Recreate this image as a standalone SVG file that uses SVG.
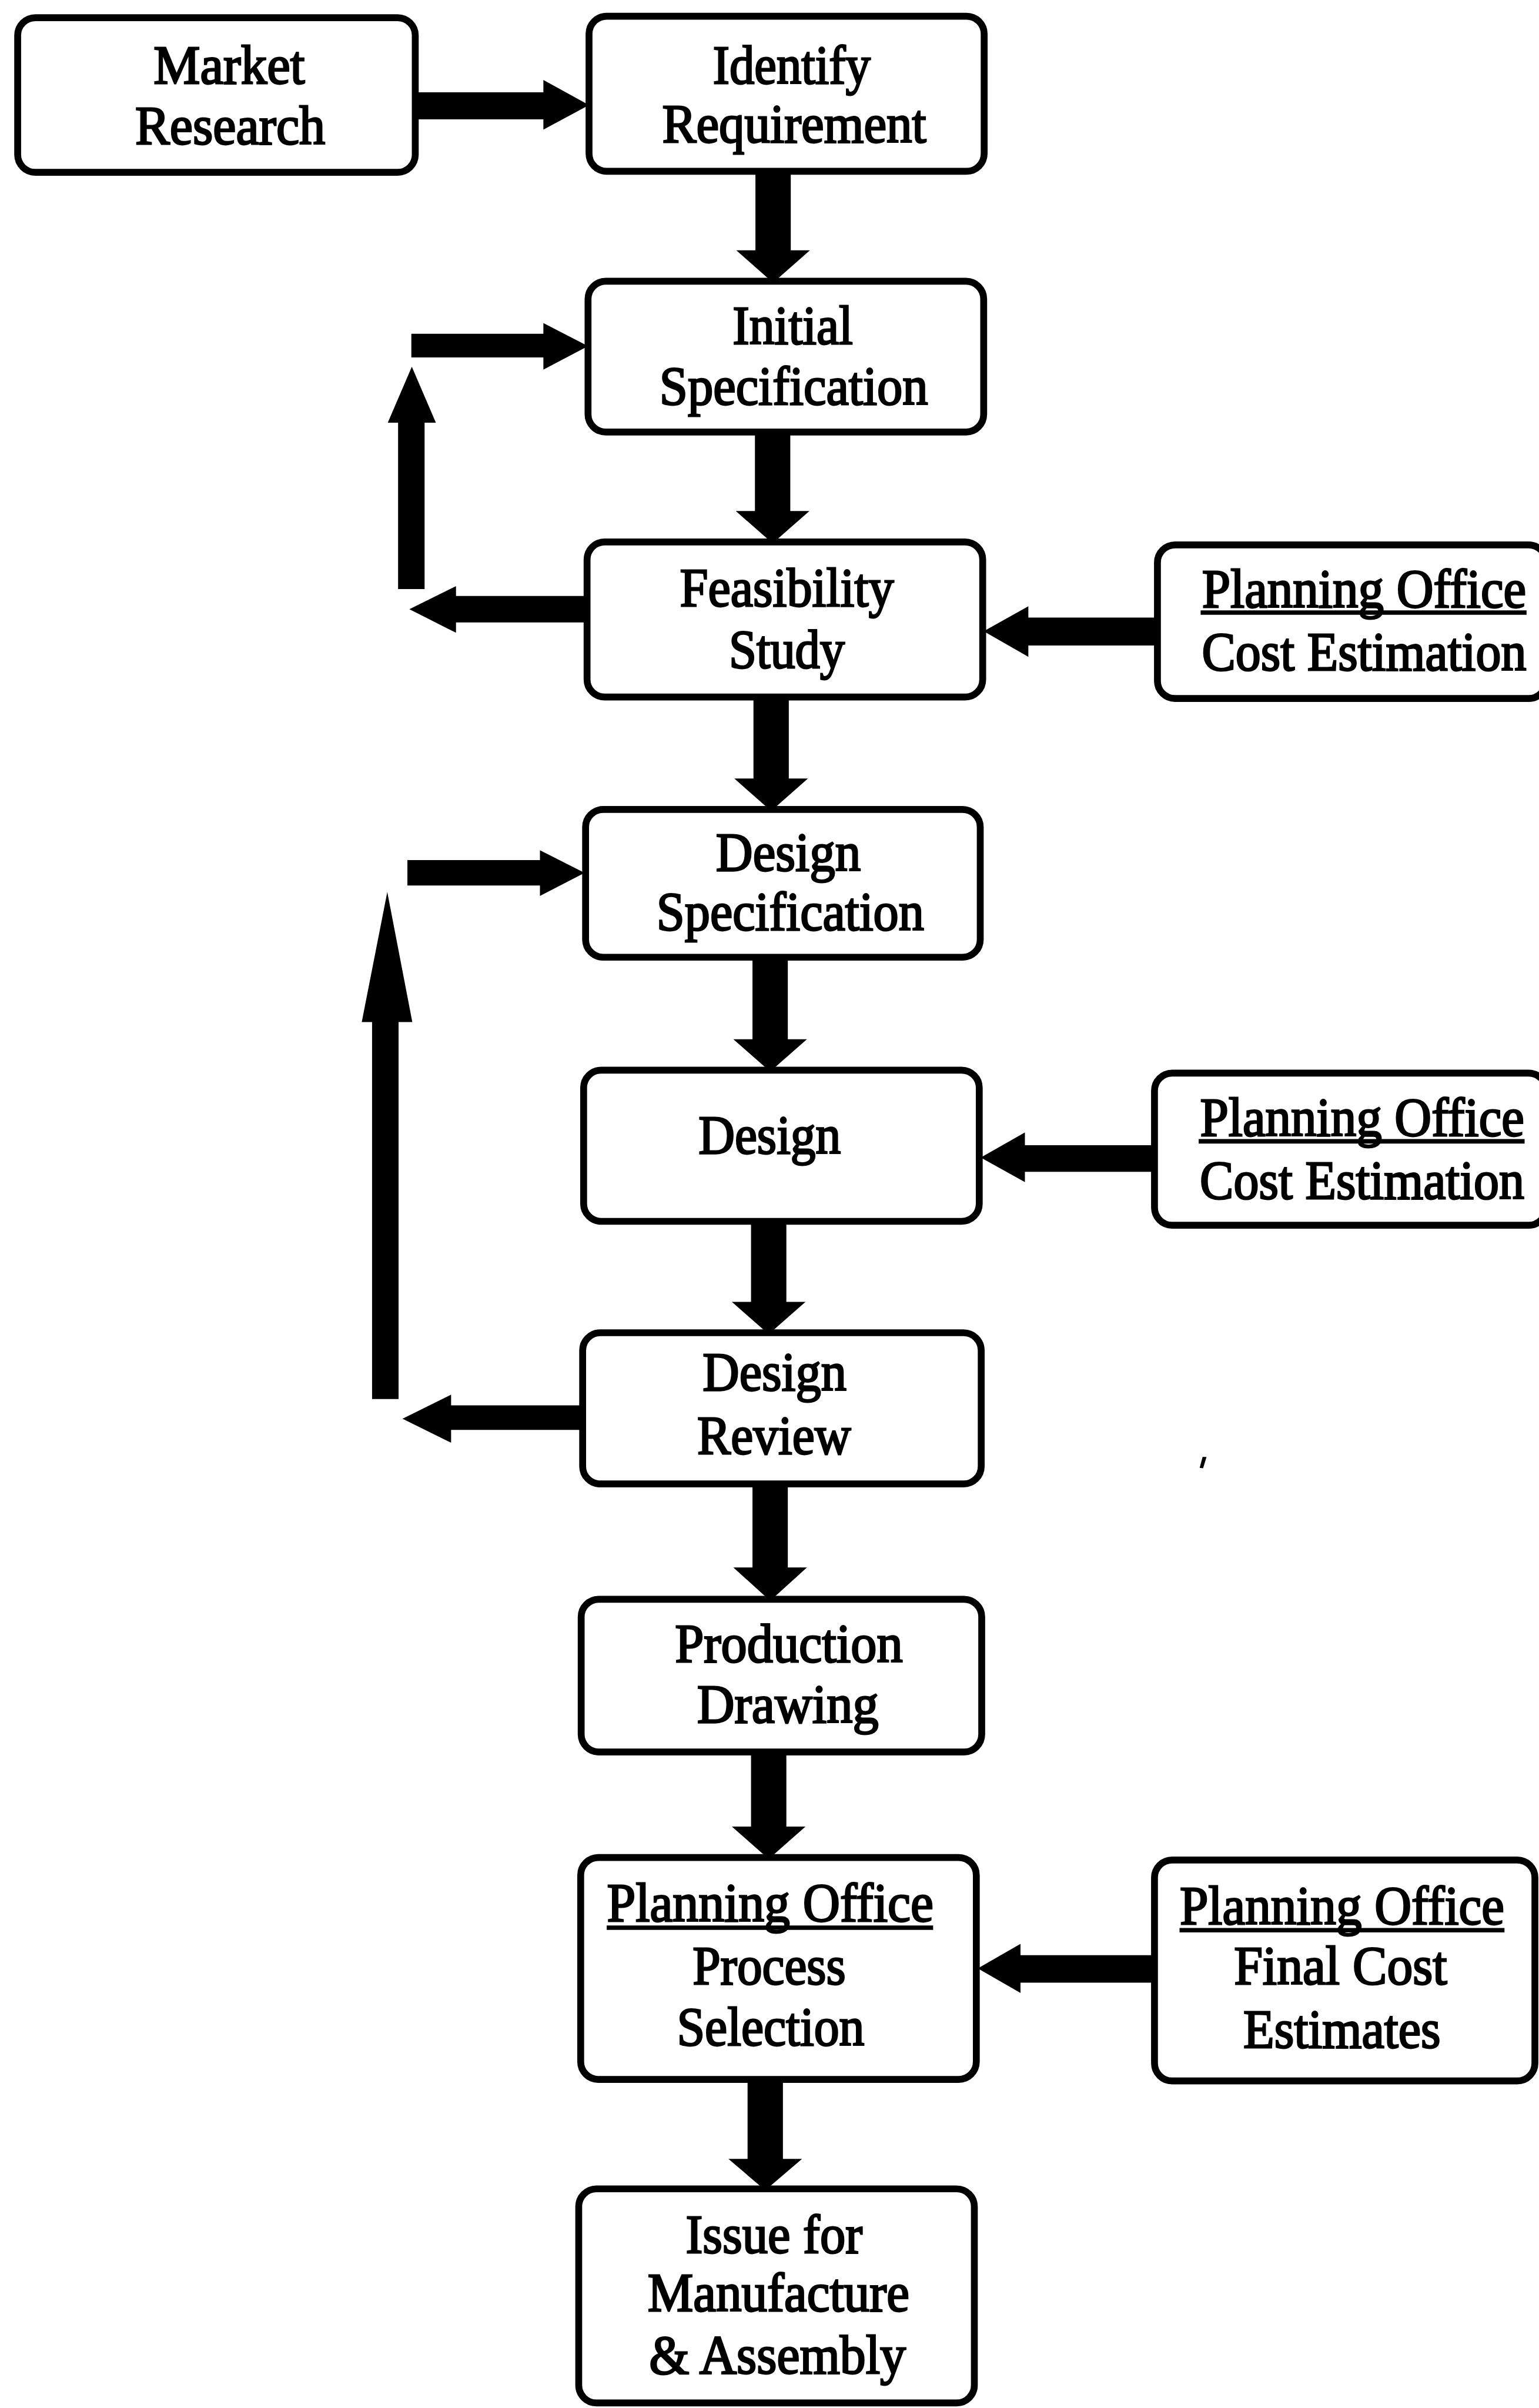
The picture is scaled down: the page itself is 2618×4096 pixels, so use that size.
<svg xmlns="http://www.w3.org/2000/svg" width="2618" height="4096" viewBox="0 0 2618 4096">
  <style>
    .box { fill: #ffffff; stroke: #000000; stroke-width: 14; }
    .lbl { font-family: "Liberation Serif", "Times New Roman", serif; font-size: 112px; fill: #000000; stroke: #000000; stroke-width: 3.5; text-anchor: middle; }
    .arr { fill: #000000; }
    .ul { stroke: #000000; stroke-width: 9; }
  </style>
  <rect width="2618" height="4096" fill="#ffffff"/>
  <!-- drawn in the 3133 x 4901 source grid, scaled to fit the page -->
  <g transform="scale(0.835)">
    <g id="nodes">
      <g id="market-research">
        <rect class="box" x="36" y="36" width="810" height="315" rx="36"/>
        <text class="lbl" x="467" y="170" textLength="308" lengthAdjust="spacingAndGlyphs">Market</text>
        <text class="lbl" x="469" y="293" textLength="387" lengthAdjust="spacingAndGlyphs">Research</text>
      </g>
      <g id="identify-requirement">
        <rect class="box" x="1200" y="33" width="805" height="316" rx="36"/>
        <text class="lbl" x="1613" y="170" textLength="321" lengthAdjust="spacingAndGlyphs">Identify</text>
        <text class="lbl" x="1618" y="290" textLength="538" lengthAdjust="spacingAndGlyphs">Requirement</text>
      </g>
      <g id="initial-specification">
        <rect class="box" x="1198" y="573" width="806" height="307" rx="36"/>
        <text class="lbl" x="1615" y="700" textLength="245" lengthAdjust="spacingAndGlyphs">Initial</text>
        <text class="lbl" x="1617" y="824" textLength="547" lengthAdjust="spacingAndGlyphs">Specification</text>
      </g>
      <g id="feasibility-study">
        <rect class="box" x="1196" y="1104" width="806" height="316" rx="36"/>
        <text class="lbl" x="1603" y="1235" textLength="436" lengthAdjust="spacingAndGlyphs">Feasibility</text>
        <text class="lbl" x="1603" y="1361" textLength="236" lengthAdjust="spacingAndGlyphs">Study</text>
      </g>
      <g id="cost-estimation-1">
        <rect class="box" x="2358" y="1110" width="792" height="313" rx="36"/>
        <text class="lbl" transform="translate(2779,1237) scale(0.93,1)">Planning Office</text>
        <line class="ul" x1="2446" y1="1248" x2="3110" y2="1248"/>
        <text class="lbl" transform="translate(2779,1365) scale(0.92,1)">Cost Estimation</text>
      </g>
      <g id="design-specification">
        <rect class="box" x="1193" y="1649" width="804" height="301" rx="36"/>
        <text class="lbl" x="1606" y="1774" textLength="295" lengthAdjust="spacingAndGlyphs">Design</text>
        <text class="lbl" x="1610" y="1895" textLength="545" lengthAdjust="spacingAndGlyphs">Specification</text>
      </g>
      <g id="design">
        <rect class="box" x="1189" y="2180" width="806" height="308" rx="36"/>
        <text class="lbl" x="1568" y="2350" textLength="290" lengthAdjust="spacingAndGlyphs">Design</text>
      </g>
      <g id="cost-estimation-2">
        <rect class="box" x="2352" y="2186" width="798" height="310" rx="36"/>
        <text class="lbl" transform="translate(2775,2314) scale(0.93,1)">Planning Office</text>
        <line class="ul" x1="2442" y1="2325" x2="3106" y2="2325"/>
        <text class="lbl" transform="translate(2775,2442) scale(0.92,1)">Cost Estimation</text>
      </g>
      <g id="design-review">
        <rect class="box" x="1187" y="2715" width="812" height="308" rx="36"/>
        <text class="lbl" x="1578" y="2832" textLength="293" lengthAdjust="spacingAndGlyphs">Design</text>
        <text class="lbl" x="1577" y="2962" textLength="313" lengthAdjust="spacingAndGlyphs">Review</text>
      </g>
      <g id="production-drawing">
        <rect class="box" x="1184" y="3258" width="816" height="311" rx="36"/>
        <text class="lbl" x="1607" y="3386" textLength="464" lengthAdjust="spacingAndGlyphs">Production</text>
        <text class="lbl" x="1605" y="3509" textLength="370" lengthAdjust="spacingAndGlyphs">Drawing</text>
      </g>
      <g id="process-selection">
        <rect class="box" x="1183" y="3784" width="806" height="452" rx="36"/>
        <text class="lbl" x="1569" y="3914" textLength="665" lengthAdjust="spacingAndGlyphs">Planning Office</text>
        <line class="ul" x1="1236" y1="3927" x2="1901" y2="3927"/>
        <text class="lbl" x="1567" y="4042" textLength="312" lengthAdjust="spacingAndGlyphs">Process</text>
        <text class="lbl" x="1570" y="4167" textLength="382" lengthAdjust="spacingAndGlyphs">Selection</text>
      </g>
      <g id="final-cost-estimates">
        <rect class="box" x="2352" y="3789" width="775" height="450" rx="36"/>
        <text class="lbl" x="2734" y="3920" textLength="661" lengthAdjust="spacingAndGlyphs">Planning Office</text>
        <line class="ul" x1="2403" y1="3932" x2="3065" y2="3932"/>
        <text class="lbl" x="2731" y="4042" textLength="434" lengthAdjust="spacingAndGlyphs">Final Cost</text>
        <text class="lbl" x="2734" y="4171" textLength="402" lengthAdjust="spacingAndGlyphs">Estimates</text>
      </g>
      <g id="issue-for-manufacture">
        <rect class="box" x="1179" y="4459" width="806" height="436" rx="36"/>
        <text class="lbl" x="1577" y="4589" textLength="360" lengthAdjust="spacingAndGlyphs">Issue for</text>
        <text class="lbl" x="1586" y="4708" textLength="533" lengthAdjust="spacingAndGlyphs">Manufacture</text>
        <text class="lbl" x="1584" y="4835" textLength="523" lengthAdjust="spacingAndGlyphs">&amp; Assembly</text>
      </g>
    </g>
    <g id="connectors">
      <!-- main flow -->
      <polygon class="arr" points="846,188 1107,188 1107,163 1200,214 1107,264 1107,243 846,243"/>
      <polygon class="arr" points="1539,349 1611,349 1611,510 1650,510 1575,576 1500,510 1539,510"/>
      <polygon class="arr" points="1538,880 1610,880 1610,1041 1649,1041 1574,1107 1499,1041 1538,1041"/>
      <polygon class="arr" points="1535,1420 1607,1420 1607,1586 1646,1586 1571,1652 1496,1586 1535,1586"/>
      <polygon class="arr" points="1533,1950 1605,1950 1605,2117 1644,2117 1569,2183 1494,2117 1533,2117"/>
      <polygon class="arr" points="1530,2488 1602,2488 1602,2652 1641,2652 1566,2718 1491,2652 1530,2652"/>
      <polygon class="arr" points="1533,3023 1605,3023 1605,3193 1644,3193 1569,3261 1494,3193 1533,3193"/>
      <polygon class="arr" points="1530,3569 1602,3569 1602,3721 1641,3721 1566,3787 1491,3721 1530,3721"/>
      <polygon class="arr" points="1523,4236 1595,4236 1595,4398 1634,4398 1559,4462 1484,4398 1523,4398"/>
      <!-- planning office inputs -->
      <polygon class="arr" points="2358,1258 2095,1258 2095,1235 2004,1286 2095,1338 2095,1315 2358,1315"/>
      <polygon class="arr" points="2352,2333 2088,2333 2088,2307 1998,2358 2088,2408 2088,2387 2352,2387"/>
      <polygon class="arr" points="2352,3983 2079,3983 2079,3960 1992,4010 2079,4060 2079,4039 2352,4039"/>
      <!-- feasibility feedback loop -->
      <polygon class="arr" points="1196,1214 929,1214 929,1194 834,1241 929,1289 929,1268 1196,1268"/>
      <polygon class="arr" points="811,1200 811,861 790,861 839,747 888,861 865,861 865,1200"/>
      <polygon class="arr" points="838,680 1107,680 1107,658 1198,705 1107,753 1107,728 838,728"/>
      <!-- design review feedback loop -->
      <polygon class="arr" points="1187,2863 919,2863 919,2841 820,2890 919,2939 919,2913 1187,2913"/>
      <polygon class="arr" points="758,2850 758,2082 737,2082 789,1817 840,2082 812,2082 812,2850"/>
      <polygon class="arr" points="830,1752 1100,1752 1100,1732 1191,1778 1100,1825 1100,1804 830,1804"/>
    </g>
    <!-- small stray mark -->
    <polygon class="arr" points="2444,2990 2450,2968 2458,2968 2451,2991"/>
  </g>
</svg>
